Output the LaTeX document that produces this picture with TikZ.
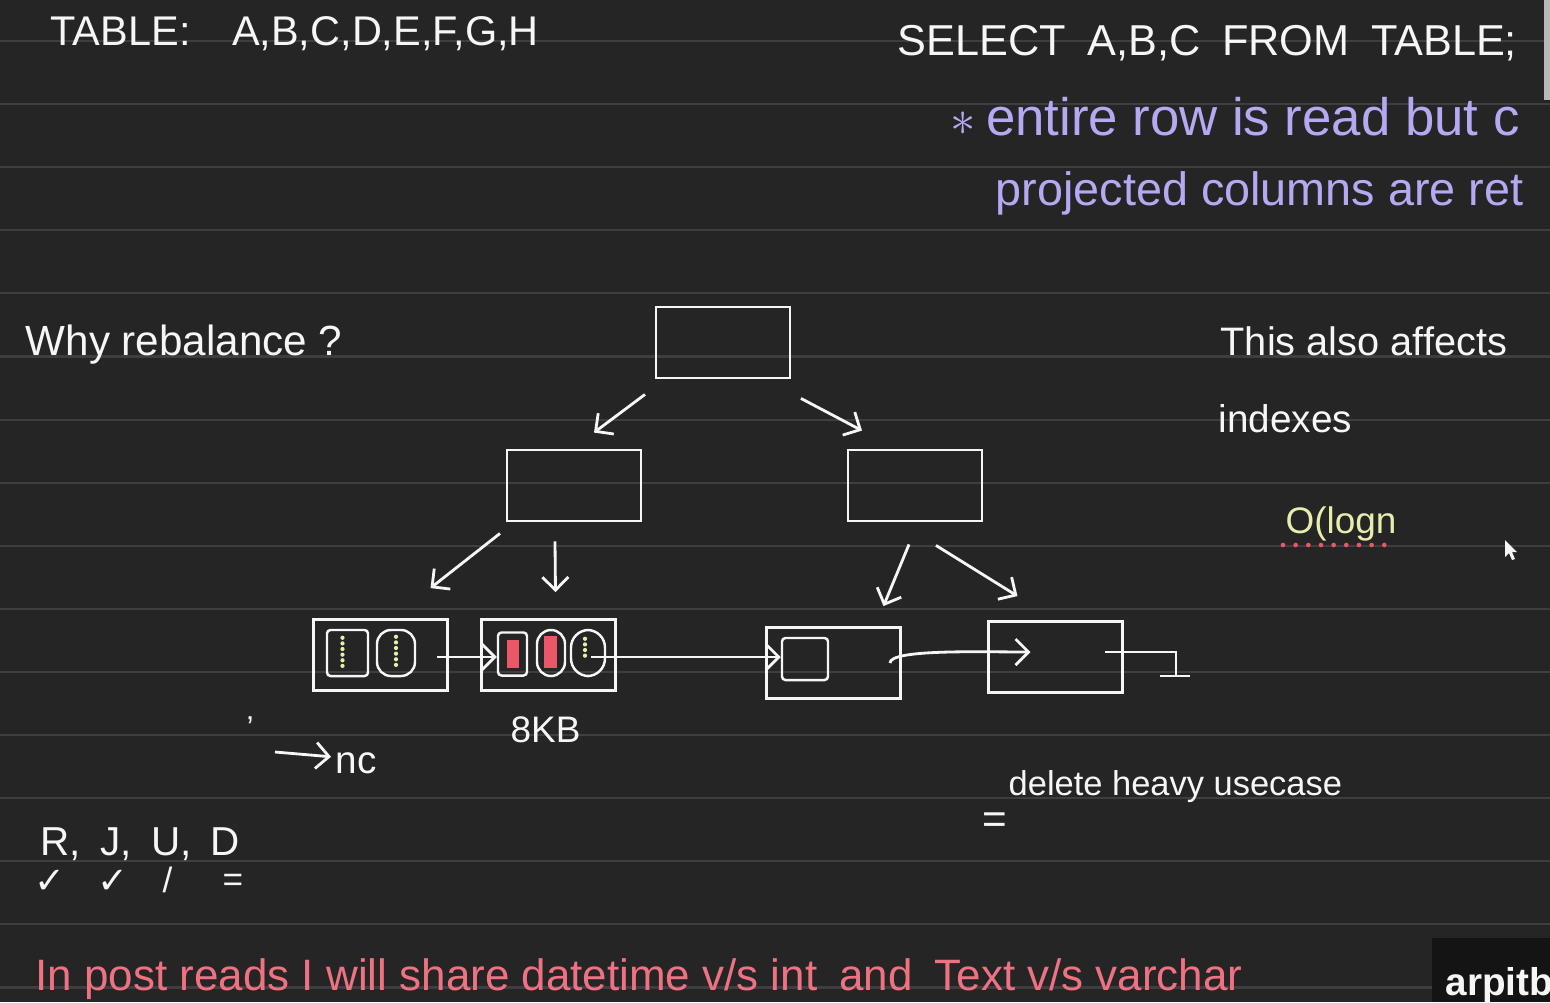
\documentclass[tikz,border=0pt]{standalone}
\usepackage{fontspec}
\setmainfont{Liberation Sans}
\newfontfamily\symfont{DejaVu Sans}
\usepackage{tikz}
\usetikzlibrary{arrows.meta,positioning,calc}
\definecolor{board}{RGB}{37,37,38}
\definecolor{rule}{RGB}{62,62,64}
\definecolor{chalk}{RGB}{246,246,246}
\definecolor{lav}{RGB}{180,170,242}
\definecolor{pinkish}{RGB}{238,114,130}
\definecolor{lemon}{RGB}{232,236,172}
\definecolor{redbar}{RGB}{234,88,104}
\tikzset{
  bx/.style ={rectangle,draw=chalk,line width=0.8pt,minimum width=1.34cm,minimum height=0.71cm,inner sep=0pt},
  pg/.style ={rectangle,draw=chalk,line width=0.7pt,inner sep=0pt,rounded corners=1pt},
  txt/.style={text=chalk,anchor=base west,inner sep=0pt},
  ar/.style ={-{Straight Barb[length=1.3mm,width=2.6mm]},draw=chalk,line width=0.8pt},
  ln/.style ={draw=chalk,line width=0.8pt},
  dots/.style={lemon,line width=1.2pt,line cap=round,dash pattern=on 0pt off 1.6pt},
}

\begin{document}
\begin{tikzpicture}[x=0.01cm,y=-0.01cm]
  % board and ruling
  \fill[board] (0,0) rectangle (1550,1002);
  \useasboundingbox (0,0) rectangle (1550,1002);
  \clip (0,0) rectangle (1550,1002);
  \foreach \k in {0,...,15}
    \draw[rule,line width=0.6pt] (0,41+63.1*\k) -- (1550,41+63.1*\k);
  \fill[gray!55] (1544,0) rectangle (1550,100);

  % headings
  \node[txt,font=\fontsize{11.8}{14}\selectfont] (tbl) at (50,45) {TABLE:\quad A,B,C,D,E,F,G,H};
  \node[txt,font=\fontsize{12.3}{14}\selectfont] (sel) at (897,55) {SELECT\enspace A,B,C\enspace FROM\enspace TABLE;};
  \node[txt,text=lav,font=\fontsize{15}{17}\selectfont] (ent) at (950,135) {$\ast$\hspace{0.1cm}entire row is read but c};
  \node[txt,text=lav,font=\fontsize{13.3}{16}\selectfont] (proj) at (995,205) {projected columns are ret};
  \node[txt,font=\fontsize{12}{14}\selectfont] (why) at (25,355) {Why rebalance ?};
  \node[txt,font=\fontsize{11.3}{13}\selectfont] (aff) at (1220,355) {This also affects};
  \node[txt,font=\fontsize{11}{13}\selectfont] (idx) at (1218,432) {indexes};
  \node[txt,text=lemon,font=\fontsize{10.5}{12}\selectfont] (olog) at (1285,533) {O(logn};
  \draw[redbar,line width=1.3pt,line cap=round,dash pattern=on 0pt off 3.6pt]
    ($(olog.base west)+(-2,12)$) -- ($(olog.base east)+(-8,12)$);

  % tree
  \node[bx] (root) at (723,342.5) {};
  \node[bx] (ml) at (574,485.5) {};
  \node[bx] (mr) at (915,485.5) {};
  \node[bx] (l1) at (380.5,655) {};
  \node[bx] (l2) at (548.5,655) {};
  \node[bx] (l3) at (833.5,663) {};
  \node[bx] (l4) at (1055.5,657) {};
  \draw[ar] ($(root.south)+(-78,15)$) -- ($(ml.north)+(20,-16)$);
  \draw[ar] ($(root.south)+(78,19)$) -- ($(mr.north)+(-53,-18)$);
  \draw[ar] ($(ml.south)+(-74,11)$) -- ($(l1.north)+(50,-30)$);
  \draw[ar] ($(ml.south)+(-19,19)$) -- ($(l2.north)+(7,-26)$);
  \draw[ar] ($(mr.south)+(-6,22)$) -- ($(l3.north)+(50,-20)$);
  \draw[ar] ($(mr.south)+(21,23)$) -- ($(l4.north)+(-38,-24)$);

  % pages inside the leaves
  \node[pg,minimum width=0.41cm,minimum height=0.46cm] (p11) at (347.5,653) {};
  \node[pg,minimum width=0.38cm,minimum height=0.46cm,rounded corners=4pt] (p12) at (396,653) {};
  \node[pg,minimum width=0.29cm,minimum height=0.43cm] (p21) at (512.5,654) {};
  \node[pg,minimum width=0.28cm,minimum height=0.46cm,rounded corners=4pt] (p22) at (551,653) {};
  \node[pg,minimum width=0.34cm,minimum height=0.46cm,rounded corners=5pt] (p23) at (588,653) {};
  \node[pg,minimum width=0.46cm,minimum height=0.42cm] (p31) at (805,659) {};
  \draw[dots] ($(p11.north)+(-5,9)$) -- ($(p11.south)+(-5,-9)$);
  \draw[dots] ($(p12.north)+(0,8)$) -- ($(p12.south)+(0,-8)$);
  \draw[dots] ($(p23.north)+(-3,10)$) -- ($(p23.center)+(-3,3)$);
  \fill[redbar] ($(p21.center)+(-6,-14)$) rectangle ($(p21.center)+(6,14)$);
  \fill[redbar] ($(p22.center)+(-7,-17)$) rectangle ($(p22.center)+(6,15)$);

  % leaf links
  \draw[ar] ($(p12.east)+(21,4)$) -- ($(p21.west)+(0,3)$);
  \draw[ar] ($(p23.east)+(-15,4)$) -- ($(p31.west)+(0,-2)$);
  \draw[ar] ($(l3.east)+(-12,0)$) .. controls +(0,-14) and +(-50,0) .. ($(l4.center)+(-25,-5)$);
  \coordinate (gnd) at (1176,652);
  \coordinate (gbar) at (1176,676);
  \draw[ln] ($(l4.east)+(-19,-5)$) -- (gnd) -- (gbar);
  \draw[ln] ($(gbar)+(-16,0)$) -- ($(gbar)+(14,0)$);

  % notes under the leaves
  \node[txt,font=\fontsize{10.5}{12}\selectfont] (kb) at (510,742) {8KB};
  \node[txt,font=\fontsize{9}{10}\selectfont] (tick) at (246,738) {'};
  \node[txt,font=\fontsize{11}{12}\selectfont] (nc) at (335,773) {nc};
  \coordinate (ncfrom) at (275,752);
  \draw[ar] (ncfrom) -- ($(nc.west)+(-4,-6)$);

  \node[txt,font=\fontsize{11.5}{14}\selectfont] (crud) at (40,855)
    {R, \hspace{0.08cm}J, \hspace{0.08cm}U, \hspace{0.08cm}D};
  \node[txt,font=\symfont\fontsize{10.5}{12}\selectfont] (ck1) at (34,893) {✓};
  \node[txt,font=\symfont\fontsize{10.5}{12}\selectfont] (ck2) at (97,893) {✓};
  \node[txt,font=\fontsize{10}{12}\selectfont] (ck3) at (162,892) {/};
  \node[txt,font=\fontsize{10}{12}\selectfont] (ck4) at (222,891) {=};

  \node[txt,font=\fontsize{9.8}{12}\selectfont] (del) at (1008,795) {delete heavy usecase};
  \node[txt,font=\fontsize{12}{14}\selectfont] (eq) at (982,833) {=};

  % footer
  \node[txt,text=pinkish,font=\fontsize{12.5}{14}\selectfont] (post) at (35,990)
    {In post reads I will share datetime v/s int\enspace and\enspace Text v/s varchar};
  \fill[black!92] (1432,938) rectangle (1550,1002);
  \node[txt,font=\bfseries\fontsize{11}{13}\selectfont] (mark) at (1445,995) {arpitb};

  % pointer
  \fill[chalk] (1505,540) -- (1505,557) -- (1509,553) -- (1512,560) -- (1515,559)
    -- (1512,552) -- (1517,552) -- cycle;
\end{tikzpicture}
\end{document}
